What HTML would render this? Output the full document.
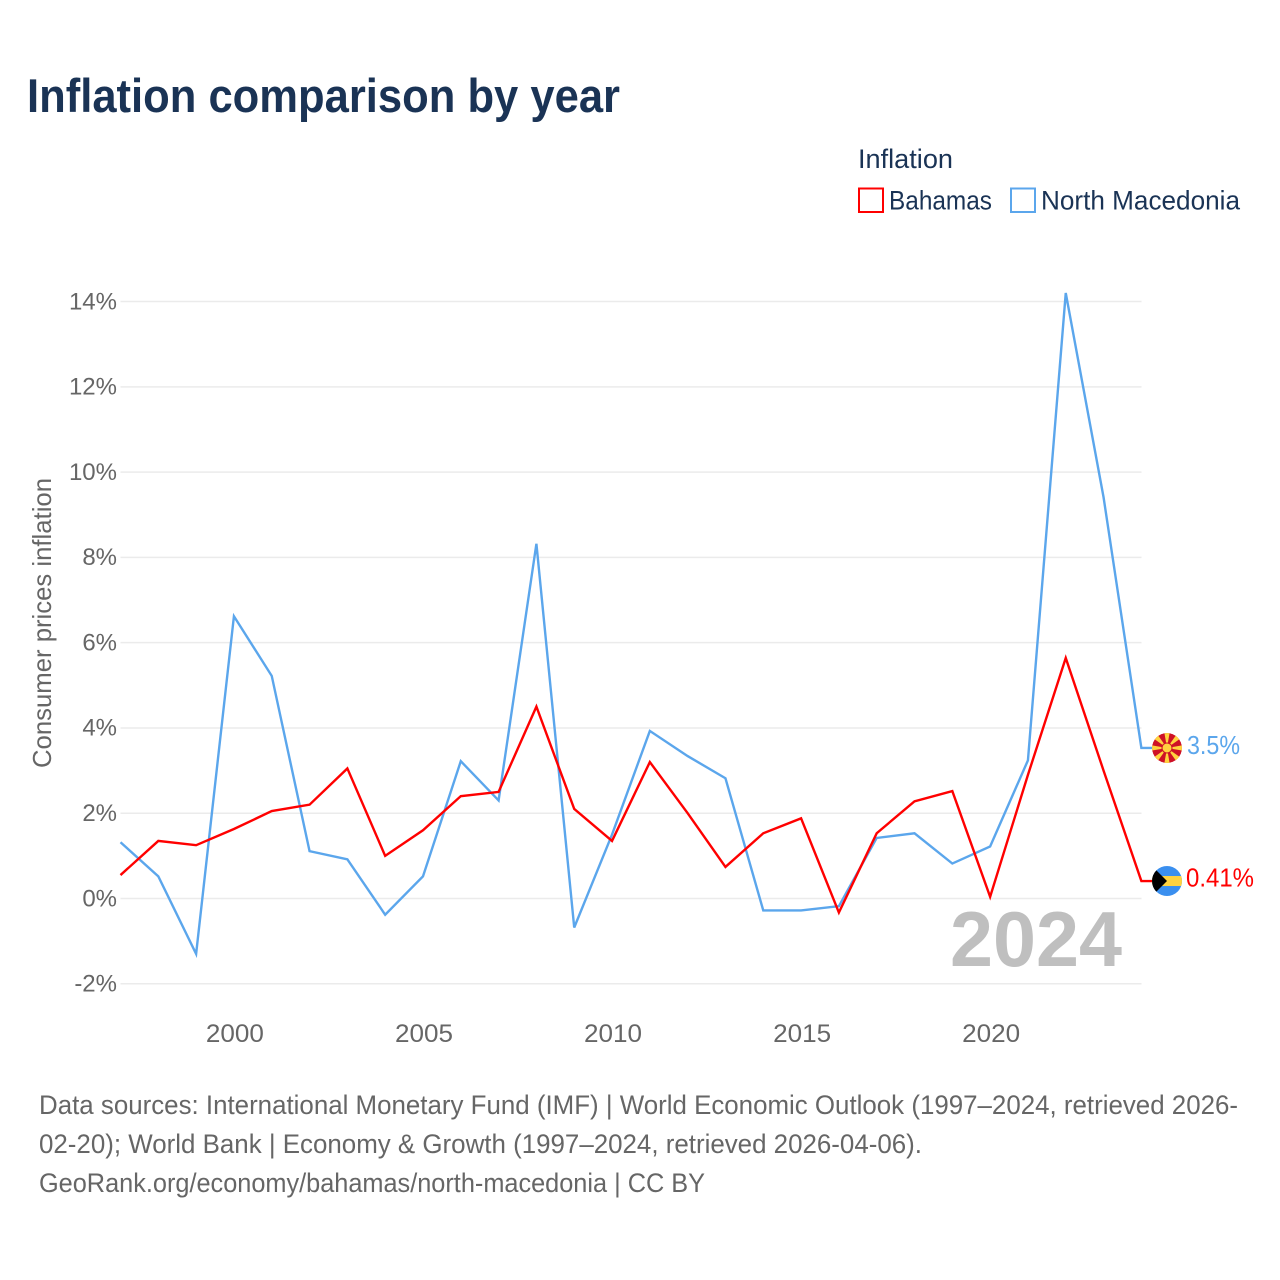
<!DOCTYPE html>
<html lang="en">
<head>
<meta charset="utf-8">
<title>Inflation comparison by year</title>
<style>
html,body{margin:0;padding:0;background:#fff;width:1280px;height:1280px;overflow:hidden}
svg{display:block}
text{font-family:"Liberation Sans",sans-serif}
</style>
</head>
<body>
<svg id="chart" xmlns="http://www.w3.org/2000/svg" width="1280" height="1280" viewBox="0 0 1280 1280">
  <defs>
    <clipPath id="clip-mk"><circle id="clip-mk-c" cx="1167" cy="748" r="15"/></clipPath>
    <clipPath id="clip-bs"><circle id="clip-bs-c" cx="1167" cy="880" r="15"/></clipPath>
  </defs>
  <text x="27" y="112" font-size="47" font-weight="700" fill="#1a3355" textLength="593" lengthAdjust="spacingAndGlyphs">Inflation comparison by year</text>

  <g>
    <text x="858" y="168" font-size="27" fill="#1a3355" textLength="95" lengthAdjust="spacingAndGlyphs">Inflation</text>
    <g>
      <rect x="859" y="188.5" width="24" height="23.5" fill="none" stroke="#ff0000" stroke-width="2"/>
      <text x="889" y="209.5" font-size="27" fill="#1a3355" textLength="103" lengthAdjust="spacingAndGlyphs">Bahamas</text>
    </g>
    <g>
      <rect x="1011" y="188.5" width="24" height="23.5" fill="none" stroke="#5ba6ec" stroke-width="2"/>
      <text x="1041" y="209.5" font-size="27" fill="#1a3355" textLength="199" lengthAdjust="spacingAndGlyphs">North Macedonia</text>
    </g>
  </g>

  <g id="grid"></g>
  <g id="yticks"></g>
  <g id="xticks"></g>
  <text transform="translate(51 623) rotate(-90)" text-anchor="middle" font-size="26" fill="#666666" textLength="290" lengthAdjust="spacingAndGlyphs">Consumer prices inflation</text>
  <text x="950" y="966" font-size="78" font-weight="700" fill="#bfbfbf" textLength="172" lengthAdjust="spacingAndGlyphs">2024</text>
  <g id="series"></g>

  <g id="flag-mk" clip-path="url(#clip-mk)">
    <circle id="mk-bg" cx="1167" cy="748" r="15" fill="#ce1126"/>
    <g id="mk-rays"></g>
    <circle id="mk-sun" cx="1167" cy="748" r="5" fill="#ffd23f" stroke="#ce1126" stroke-width="1"/>
  </g>
  <g id="flag-bs" clip-path="url(#clip-bs)">
    <rect id="bs-bg" x="1152" y="865" width="30" height="30" fill="#3a8fef"/>
    <rect id="bs-band" x="1152" y="875" width="30" height="10" fill="#ffd23f"/>
    <polygon id="bs-tri" points="1152,865 1167,880 1152,895" fill="#000000"/>
  </g>
  <text id="label-mk" x="1187" y="754" font-size="26" fill="#5ba6ec" textLength="53" lengthAdjust="spacingAndGlyphs">3.5%</text>
  <text id="label-bs" x="1186" y="886" font-size="26" fill="#ff0000" textLength="68" lengthAdjust="spacingAndGlyphs">0.41%</text>

  <g font-size="27" fill="#666666">
    <text x="39" y="1114" textLength="1199" lengthAdjust="spacingAndGlyphs">Data sources: International Monetary Fund (IMF) | World Economic Outlook (1997–2024, retrieved 2026-</text>
    <text x="39" y="1153" textLength="883" lengthAdjust="spacingAndGlyphs">02-20); World Bank | Economy &amp; Growth (1997–2024, retrieved 2026-04-06).</text>
    <text x="39" y="1192" textLength="666" lengthAdjust="spacingAndGlyphs">GeoRank.org/economy/bahamas/north-macedonia | CC BY</text>
  </g>
</svg>
<script>
const years = [1997,1998,1999,2000,2001,2002,2003,2004,2005,2006,2007,2008,2009,2010,2011,2012,2013,2014,2015,2016,2017,2018,2019,2020,2021,2022,2023,2024];
const bahamas = [0.55,1.35,1.25,1.63,2.05,2.2,3.05,1.0,1.6,2.4,2.5,4.5,2.1,1.35,3.2,2.0,0.74,1.53,1.88,-0.33,1.53,2.28,2.52,0.04,2.9,5.64,3.0,0.41];
const northMacedonia = [1.32,0.52,-1.3,6.62,5.22,1.11,0.92,-0.38,0.52,3.22,2.3,8.32,-0.68,1.5,3.93,3.34,2.82,-0.28,-0.28,-0.18,1.42,1.53,0.82,1.22,3.24,14.2,9.41,3.53];
const yTickValues = [-2,0,2,4,6,8,10,12,14];
const xTickValues = [2000,2005,2010,2015,2020];

const NS = 'http://www.w3.org/2000/svg';
function xScale(year){ return 120.5 + (year - 1997) * 37.81; }
function yScale(value){ return 898.5 - value * 42.64; }
function make(tag, attrs, parent){
  const el = document.createElementNS(NS, tag);
  for (const k in attrs) el.setAttribute(k, attrs[k]);
  parent.appendChild(el);
  return el;
}

const grid = document.getElementById('grid');
const yticks = document.getElementById('yticks');
yTickValues.forEach(function(v){
  const line = make('line', {x1:120.5, x2:1141.5, y1:yScale(v), y2:yScale(v), stroke:'#ebebeb', 'stroke-width':1.5}, grid);
  
  
  const t = make('text', {x:117, y:yScale(v)+7.8, 'text-anchor':'end', 'font-size':24, fill:'#666666'}, yticks);
  
  
  t.textContent = v + '%';
});

const xticks = document.getElementById('xticks');
xTickValues.forEach(function(y){
  const t = make('text', {x:xScale(y)+1, y:1042, 'text-anchor':'middle', 'font-size':25, fill:'#666666', textLength:58, lengthAdjust:'spacingAndGlyphs'}, xticks);
  
  
  t.textContent = y;
});

const seriesGroup = document.getElementById('series');
function drawSeries(values, color, name){
  const pts = values.map(function(v, i){ return xScale(years[i]).toFixed(2) + ',' + yScale(v).toFixed(2); });
  const last = values[values.length - 1];
  pts.push('1154,' + yScale(last).toFixed(2));
  const line = make('polyline', {points:pts.join(' '), fill:'none', stroke:color, 'stroke-width':2.4, 'stroke-linejoin':'miter'}, seriesGroup);
  
  
}
drawSeries(northMacedonia, '#5ba6ec', 'line-north-macedonia');
drawSeries(bahamas, '#ff0000', 'line-bahamas');

/* end flags and labels follow the last value of each series */
const mkY = yScale(northMacedonia[northMacedonia.length - 1]);
const bsY = yScale(bahamas[bahamas.length - 1]);
['clip-mk-c','mk-bg','mk-sun'].forEach(function(id){ document.getElementById(id).setAttribute('cy', mkY); });
document.getElementById('clip-bs-c').setAttribute('cy', bsY);
document.getElementById('bs-bg').setAttribute('y', bsY - 15);
document.getElementById('bs-band').setAttribute('y', bsY - 5);
document.getElementById('bs-tri').setAttribute('points', '1152,' + (bsY-15) + ' 1167,' + bsY + ' 1152,' + (bsY+15));
document.getElementById('label-mk').setAttribute('y', mkY + 6);
document.getElementById('label-bs').setAttribute('y', bsY + 5.5);

const rays = document.getElementById('mk-rays');
for (let i = 0; i < 8; i++) {
  const a = i * 45;
  const w = 5.5;
  make('polygon', {points:'1167,' + mkY + ' ' + (1167 - w/2) + ',' + (mkY - 16) + ' ' + (1167 + w/2) + ',' + (mkY - 16), fill:'#ffd23f', transform:'rotate(' + a + ' 1167 ' + mkY + ')'}, rays);
}
</script>
</body>
</html>
